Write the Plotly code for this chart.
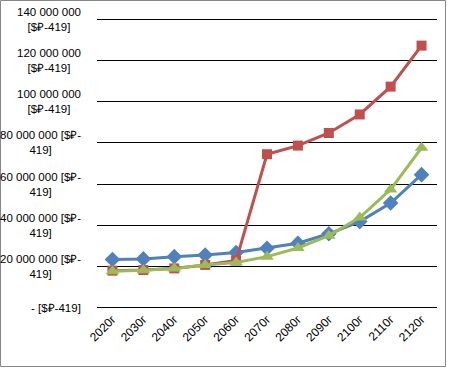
import plotly.graph_objects as go

years = ["2020г", "2030г", "2040г", "2050г", "2060г", "2070г", "2080г", "2090г", "2100г", "2110г", "2120г"]
blue_vals = [23.4e6, 23.7e6, 24.8e6, 25.6e6, 26.8e6, 28.9e6, 31.3e6, 35.9e6, 41.8e6, 50.8e6, 64.6e6]
red_vals = [18.0e6, 18.3e6, 19.1e6, 20.8e6, 22.9e6, 74.5e6, 78.7e6, 84.8e6, 93.8e6, 107.3e6, 127.2e6]
green_vals = [17.7e6, 18.2e6, 19.1e6, 20.8e6, 22.0e6, 24.8e6, 29.0e6, 35.0e6, 43.8e6, 57.4e6, 77.6e6]

y_ticks = [0, 20e6, 40e6, 60e6, 80e6, 100e6, 120e6, 140e6]
y_tick_text = [
    "- [$₽-419]",
    "20 000 000 [$₽-<br>419]",
    "40 000 000 [$₽-<br>419]",
    "60 000 000 [$₽-<br>419]",
    "80 000 000 [$₽-<br>419]",
    "100 000 000<br>[$₽-419]",
    "120 000 000<br>[$₽-419]",
    "140 000 000<br>[$₽-419]",
]

FONT = "Liberation Sans"

fig = go.Figure()
fig.add_trace(go.Scatter(x=years, y=blue_vals, mode="lines+markers",
                         line=dict(color="#4F81BD", width=3),
                         marker=dict(symbol="diamond", size=12, color="#4F81BD"),
                         cliponaxis=False))
fig.add_trace(go.Scatter(x=years, y=red_vals, mode="lines+markers",
                         line=dict(color="#C0504D", width=3),
                         marker=dict(symbol="square", size=10, color="#C0504D"),
                         cliponaxis=False))
fig.add_trace(go.Scatter(x=years, y=green_vals, mode="lines+markers",
                         line=dict(color="#9BBB59", width=3),
                         marker=dict(symbol="triangle-up", size=12, color="#9BBB59"),
                         cliponaxis=False))

annotations = []
for v, t in zip(y_ticks, y_tick_text):
    annotations.append(dict(x=0, xref="paper", y=v, yref="y", text=t,
                            showarrow=False, xanchor="right", yanchor="middle",
                            align="center", xshift=-14,
                            font=dict(family=FONT, size=11.5, color="#000000")))

fig.update_layout(
    width=449, height=371,
    margin=dict(l=97, r=12, t=18, b=62, autoexpand=False),
    paper_bgcolor="white", plot_bgcolor="white",
    showlegend=False,
    font=dict(family=FONT, size=12, color="#000000"),
    annotations=annotations,
    shapes=[dict(type="rect", xref="paper", yref="paper",
                 x0=-0.2838, x1=1.025, y0=-0.1976, y1=1.0601,
                 line=dict(color="#878787", width=1), fillcolor="rgba(0,0,0,0)",
                 layer="below")],
)
fig.update_xaxes(type="category", range=[-0.5, 10.5], showgrid=False,
                 showline=False, ticks="", tickangle=-45, zeroline=False,
                 automargin=False,
                 tickfont=dict(family=FONT, size=12, color="#000000"))
fig.update_yaxes(range=[-0.6e6, 140.6e6], tickvals=y_ticks, showticklabels=False,
                 showgrid=True, gridcolor="#000000", gridwidth=1,
                 zeroline=True, zerolinecolor="#000000", zerolinewidth=1,
                 showline=False, ticks="", automargin=False)

fig.write_html("out.html", config={"displayModeBar": False},
               post_script="document.body.style.margin='0';document.body.style.overflow='hidden';")
